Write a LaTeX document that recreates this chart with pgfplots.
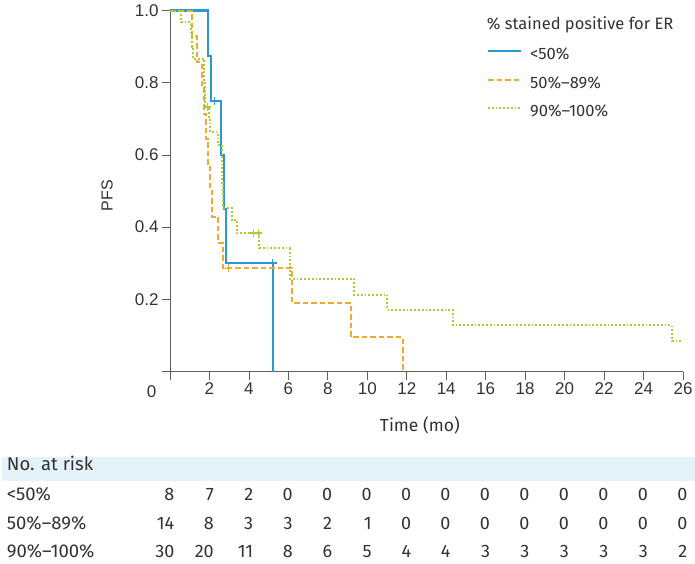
\documentclass[border=0pt]{standalone}
\usepackage{fontspec}
\setmainfont{Fira Sans}
\newfontfamily\arialf{Liberation Sans}
\usepackage{pgfplots}
\pgfplotsset{compat=1.18}
\definecolor{cBlue}{HTML}{2B98D6}
\definecolor{cOrange}{HTML}{F2A72E}
\definecolor{cGreen}{HTML}{A9CD33}
\definecolor{cAxis}{HTML}{606060}
\definecolor{cText}{HTML}{333333}
\definecolor{cBand}{HTML}{E4F2FA}
\newcommand\tabfont{\fontsize{18.5}{18.5}\selectfont\color{cText}}
\newcommand\numfont{\fontsize{18}{18}\selectfont\color{cText}}
\begin{document}
\begin{tikzpicture}[x=1pt,y=1pt]
\useasboundingbox (0,0) rectangle (695,-563);
\fill[cBand] (2,-456.7) rectangle (695,-480.7);
\begin{axis}[
  at={(170pt,-371.5pt)}, anchor=south west,
  scale only axis, width=513pt, height=361pt,
  xmin=0, xmax=26, ymin=0, ymax=1,
  axis x line*=bottom, axis y line*=left,
  axis line style={cAxis, line width=1pt, -},
  xtick={0,2,...,26}, xticklabels={,2,4,6,8,10,12,14,16,18,20,22,24,26},
  ytick={0,0.2,0.4,0.6,0.8,1.0}, yticklabels={,0.2,0.4,0.6,0.8,1.0},
  tick align=outside, major tick length=8pt,
  tick style={cAxis, line width=0.8pt},
  ticklabel style={font=\arialf\fontsize{17}{17}\selectfont, text=cText},
  ylabel={\arialf PFS},
  ylabel style={at={(axis description cs:-0.1228,0.4875)}, anchor=center, font=\fontsize{16}{16}\selectfont, text=cText},
  xlabel={Time (mo)},
  xlabel style={at={(axis description cs:0.487,-0.1496)}, anchor=center, font=\fontsize{17.5}{17.5}\selectfont, text=cText},
  clip=false,
  legend cell align=left,
  legend image code/.code={\draw[#1] (0pt,4pt) -- (33pt,4pt);},
  legend style={at={(axis description cs:0.6174,0.898)}, anchor=north west,
    draw=none, fill=none, inner sep=0pt, row sep=13.5pt, column sep=8pt,
    font=\fontsize{16.5}{16.5}\selectfont, text=cText,
    nodes={inner sep=0pt, text height=12pt, text depth=3pt}},
]
\addplot[const plot, cBlue, line width=2.2pt] coordinates {
(0,1) (1.93,0.875) (2.06,0.75) (2.6,0.6) (2.72,0.45) (2.82,0.30) (5.2,0)};
\addlegendentry{<50\%}
\addplot[const plot, cOrange, line width=2pt, dash pattern=on 5.5pt off 3pt] coordinates {
(0,1) (1.09,0.929) (1.36,0.857) (1.6,0.786) (1.7,0.714) (1.81,0.643) (1.93,0.571)
(2.03,0.5) (2.11,0.429) (2.45,0.357) (2.67,0.286) (6.17,0.190) (9.16,0.095) (11.8,0)};
\addlegendentry{50\%–89\%}
\addplot[const plot, cGreen, line width=2pt, dash pattern=on 1.8pt off 2pt] coordinates {
(0,1) (0.58,0.967) (1.05,0.933) (1.14,0.9) (1.16,0.867) (1.72,0.833) (1.74,0.8)
(1.76,0.767) (1.78,0.733) (1.97,0.698) (2.02,0.663) (2.42,0.628) (2.61,0.593)
(2.64,0.558) (2.66,0.523) (2.68,0.488) (2.7,0.453) (3.13,0.419) (3.38,0.384)
(4.53,0.341) (6.07,0.299) (6.1,0.256) (9.33,0.213) (11.02,0.171) (14.34,0.128)
(25.44,0.085) (26,0.085)};
\addlegendentry{90\%–100\%}
% censor marks
\addplot[only marks, mark=+, mark size=4pt, cBlue, line width=1.5pt, forget plot] coordinates {(2.26,0.75) (5.2,0.30)};
\addplot[only marks, mark=+, mark size=4pt, cOrange, line width=1.5pt, forget plot] coordinates {(2.96,0.286)};
\addplot[only marks, mark=+, mark size=4pt, cGreen, line width=1.5pt, forget plot] coordinates {(1.89,0.733) (4.22,0.384) (4.48,0.384)};
\end{axis}
\node[anchor=center, font=\arialf\fontsize{17}{17}\selectfont, text=cText] at (151.7,-392) {0};
\node[anchor=mid west, inner sep=0pt, font=\fontsize{16.5}{16.5}\selectfont, text=cText] at (486.7,-27.3) {\% stained positive for ER};
\node[anchor=mid west, inner sep=0pt, font=\tabfont] at (6.7,-467.7) {No. at risk};
\node[anchor=mid west, inner sep=0pt, font=\tabfont] at (6.7,-497.7) {<50\%};
\node[anchor=mid west, inner sep=0pt, font=\tabfont] at (6.7,-526.7) {50\%–89\%};
\node[anchor=mid west, inner sep=0pt, font=\tabfont] at (6.7,-555) {90\%–100\%};
\foreach \t/\a/\b/\c in {0/8/14/30,2/7/8/20,4/2/3/11,6/0/3/8,8/0/2/6,10/0/1/5,12/0/0/4,14/0/0/4,16/0/0/3,18/0/0/3,20/0/0/3,22/0/0/3,24/0/0/3,26/0/0/2} {
  \pgfmathsetmacro\xx{170+\t*513/26+4.5}
  \node[anchor=mid east, inner sep=0pt, font=\numfont] at (\xx,-497.7) {\a};
  \node[anchor=mid east, inner sep=0pt, font=\numfont] at (\xx,-526.7) {\b};
  \node[anchor=mid east, inner sep=0pt, font=\numfont] at (\xx,-555) {\c};
}
\end{tikzpicture}
\end{document}
